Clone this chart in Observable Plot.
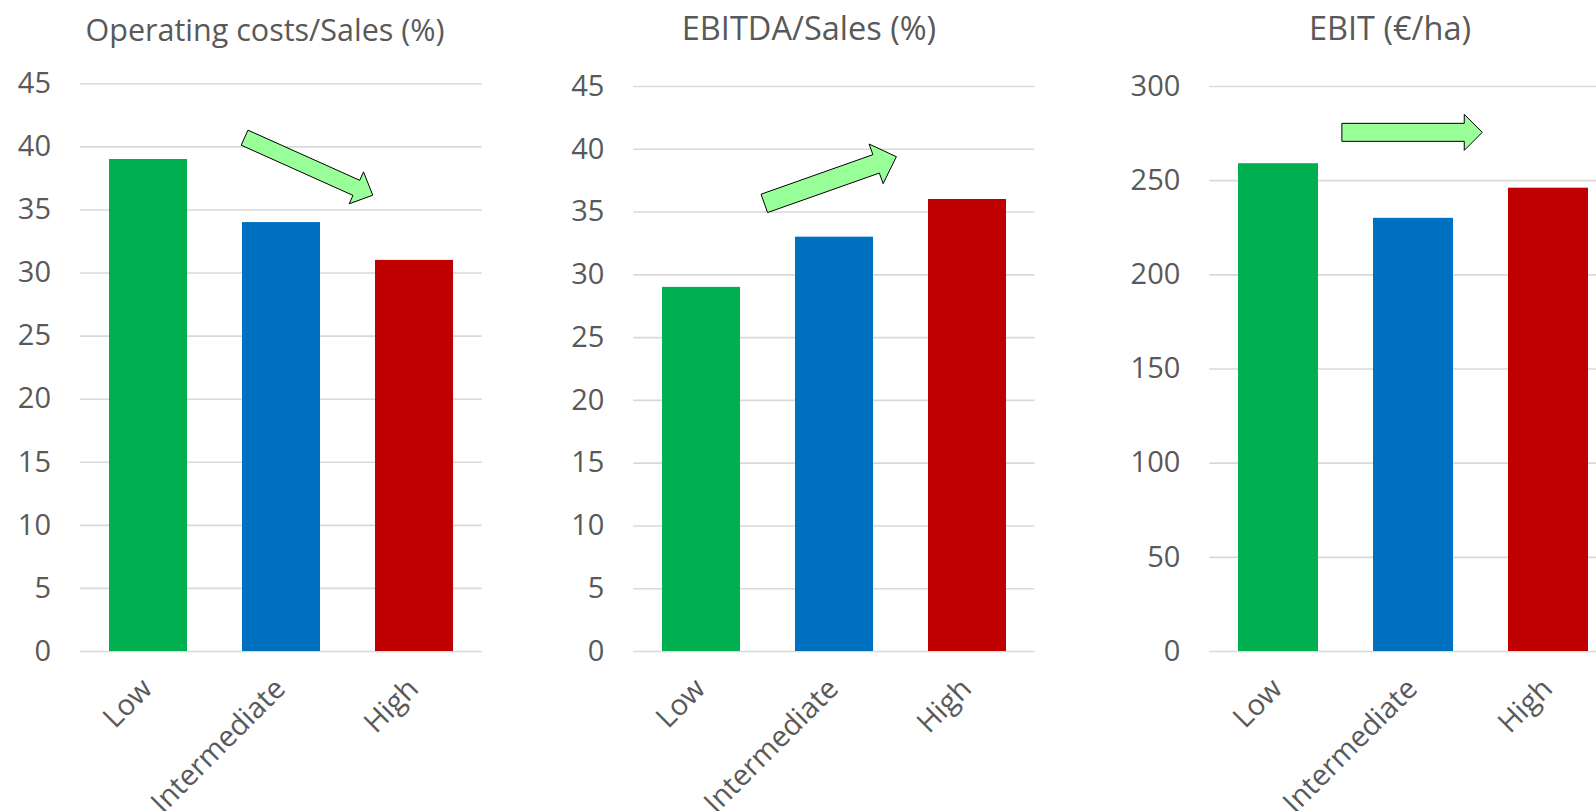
<!DOCTYPE html>
<html><head><meta charset="utf-8">
<script src="https://cdn.jsdelivr.net/npm/d3@7"></script>
<script src="https://cdn.jsdelivr.net/npm/@observablehq/plot@0.6"></script>
<style>
html,body{margin:0;padding:0;background:#fff;overflow:hidden;width:1596px;height:811px}
#root{position:relative;width:1596px;height:811px;overflow:hidden;background:#fff}
.panel{position:absolute;top:0;height:811px}
.panel svg{max-width:none !important}
.title{position:absolute;font-family:"Open Sans";color:#595959;white-space:nowrap;text-align:center;width:500px;height:40px;display:flex;align-items:flex-end;justify-content:center;line-height:1}
</style></head><body><div id="root"></div>
<script>
// ---- data ----
const categories = ["Low", "Intermediate", "High"];
const barColors = ["#00B050", "#0070C0", "#C00000"];
const titles = ["Operating costs/Sales (%)", "EBITDA/Sales (%)", "EBIT (€/ha)"];
const operatingCostsPct = [39, 34, 31];
const ebitdaPct = [29, 33, 36];
const ebitPerHa = [259, 230, 246];
const pctTicks = [0, 5, 10, 15, 20, 25, 30, 35, 40, 45];
const ebitTicks = [0, 50, 100, 150, 200, 250, 300];
// trend arrows, ends given as (category index, value)
const trendArrow1 = {x1: 0.726, y1: 40.69, x2: 1.69, y2: 36.13};
const trendArrow2 = {x1: 0.476, y1: 35.65, x2: 1.469, y2: 39.37};
const trendArrow3 = {x1: 0.473, y1: 275.4, x2: 1.513, y2: 275.4};

// ---- layout / style ----
const panels = [
  {values: operatingCostsPct, ticks: pctTicks, domain: [0, 45], arrow: trendArrow1, arrowStyle: {sw: 16.5, hw: 35, hl: 18},
   left: 0, width: 540, ml: 80, mr: 58.3, mt: 83.3, titleX: 265, titleSize: 30.5},
  {values: ebitdaPct, ticks: pctTicks, domain: [0, 45], arrow: trendArrow2, arrowStyle: {sw: 19.5, hw: 42, hl: 21.5},
   left: 540, width: 540, ml: 93.3, mr: 45.6, mt: 86, titleX: 809, titleSize: 32.5},
  {values: ebitPerHa, ticks: ebitTicks, domain: [0, 300], arrow: trendArrow3, arrowStyle: {sw: 18, hw: 36, hl: 18},
   left: 1080, width: 537, ml: 129.3, mr: 0, mt: 86, titleX: 1390, titleSize: 32.5}
];

function arrowMark(a, st) {
  return (index, scales) => {
    const x = scales.x, y = scales.y;
    const step = x(categories[1]) - x(categories[0]);
    const bw = x.bandwidth ? x.bandwidth() : 0;
    const cx = v => x(categories[0]) + bw / 2 + v * step;
    const p0 = [cx(a.x1), y(a.y1)], p1 = [cx(a.x2), y(a.y2)];
    const dx = p1[0] - p0[0], dy = p1[1] - p0[1], L = Math.hypot(dx, dy);
    const u = [dx / L, dy / L], n = [-u[1], u[0]];
    const b = [p1[0] - u[0] * st.hl, p1[1] - u[1] * st.hl];
    const pt = (p, k) => [p[0] + n[0] * k, p[1] + n[1] * k];
    const pts = [pt(p0, st.sw / 2), pt(b, st.sw / 2), pt(b, st.hw / 2), p1, pt(b, -st.hw / 2), pt(b, -st.sw / 2), pt(p0, -st.sw / 2)];
    const path = document.createElementNS("http://www.w3.org/2000/svg", "path");
    path.setAttribute("d", "M" + pts.map(p => p[0].toFixed(2) + "," + p[1].toFixed(2)).join("L") + "Z");
    path.setAttribute("fill", "#99FF99");
    path.setAttribute("stroke", "#000");
    path.setAttribute("stroke-width", "1");
    path.setAttribute("stroke-linejoin", "miter");
    return path;
  };
}

const root = document.getElementById("root");
panels.forEach((p, i) => {
  const data = categories.map((c, j) => ({cat: c, v: p.values[j], color: barColors[j]}));
  const chart = Plot.plot({
    width: p.width, height: 811,
    marginLeft: p.ml, marginRight: p.mr, marginTop: p.mt, marginBottom: 160,
    style: {fontFamily: "Open Sans", fontSize: "29px", color: "#595959", background: "transparent", maxWidth: "none"},
    x: {domain: categories, paddingInner: 0.41, paddingOuter: 0.205, label: null},
    y: {domain: p.domain, label: null},
    color: {type: "identity"},
    marks: [
      Plot.gridY(p.ticks, {stroke: "#D9D9D9", strokeOpacity: 1, strokeWidth: 1.6}),
      Plot.barY(data, {x: "cat", y: "v", fill: "color"}),
      Plot.axisY({ticks: p.ticks, tickSize: 0, tickPadding: 29.5, fontSize: 29, label: null, tickFormat: d => String(d)}),
      Plot.axisX({tickRotate: -45, textAnchor: "end", lineAnchor: "bottom", tickSize: 0, tickPadding: 39, dx: 5.5, fontSize: 29, label: null}),
      arrowMark(p.arrow, p.arrowStyle)
    ]
  });
  const wrap = document.createElement("div");
  wrap.className = "panel";
  wrap.style.left = p.left + "px";
  wrap.style.width = p.width + "px";
  wrap.appendChild(chart);
  root.appendChild(wrap);
  const t = document.createElement("div");
  t.className = "title";
  t.style.fontSize = p.titleSize + "px";
  const span = document.createElement("span");
  span.textContent = titles[i];
  t.appendChild(span);
  t.style.left = (p.titleX - 250) + "px";
  t.style.top = "4px";
  root.appendChild(t);
});
</script></body></html>
